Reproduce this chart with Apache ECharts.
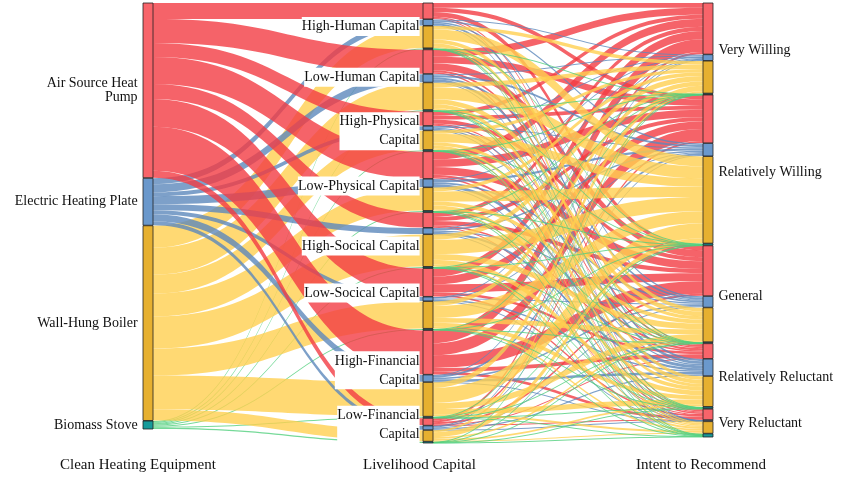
<!DOCTYPE html>
<html>
<head>
<meta charset="UTF-8">
<script src="https://cdn.jsdelivr.net/npm/echarts@6/dist/echarts.min.js"></script>
</head>
<body style="margin:0">
<div id="main" style="width:857px;height:483px;"></div>
<script>
// equipment (left column)
var equipment = ['Air Source Heat Pump', 'Electric Heating Plate', 'Wall-Hung Boiler', 'Biomass Stove'];
var equipLabels = ['Air Source Heat\nPump', 'Electric Heating Plate', 'Wall-Hung Boiler', 'Biomass Stove'];
// livelihood capital (middle column)
var capitals = ['High-Human Capital', 'Low-Human Capital', 'High-Physical Capital', 'Low-Physical Capital',
  'High-Socical Capital', 'Low-Socical Capital', 'High-Financial Capital', 'Low-Financial Capital'];
var capitalLabels = ['High-Human Capital', 'Low-Human Capital', 'High-Physical\nCapital', 'Low-Physical Capital',
  'High-Socical Capital', 'Low-Socical Capital', 'High-Financial\nCapital', 'Low-Financial\nCapital'];
// flows equipment -> capital, per capital [ASHP, EHP, WHB, BS]
var capitalSplit = [
  [16, 6, 22, 0.8],
  [24, 8, 27, 1],
  [14, 4, 19, 1],
  [27, 8, 23, 1],
  [15, 6, 32, 1],
  [28, 4, 27, 1],
  [44, 7, 34, 1],
  [7, 4, 11, 1.2]
];
// intent (right column)
var intents = ['Very Willing', 'Relatively Willing', 'General', 'Relatively Reluctant', 'Very Reluctant'];
// per intent [ASHP, EHP, WHB, BS]
var intentSplit = [
  [48, 7, 33, 0.5],
  [45, 15, 89, 1],
  [47, 13, 35, 0.5],
  [14, 20, 31, 1],
  [10, 1, 12, 2]
];

var nodeColors = ['#f8646a', '#6a98cc', '#e6b030', '#169a9a'];
var linkColors = ['#f23c44', '#5c88bb', '#ffd050', '#52d07e'];
var capLabelOffset = [[0, 4], [0, -1], [0, 3], [0, 3], [0, 15], [0, -6], [0, -8], [0, -3]];
var intentLabelOffset = [[0, -7], [0, 23], [0, -5], [0, 10], [0, 3]];

var nodes = [], links = [];
equipment.forEach(function (e, k) {
  nodes.push({
    name: e, itemStyle: { color: nodeColors[k] },
    label: { show: true, position: 'left', formatter: equipLabels[k], align: 'right' }
  });
});
capitals.forEach(function (c, ci) {
  equipment.forEach(function (e, k) {
    nodes.push({
      name: c + '|' + k, itemStyle: { color: nodeColors[k] },
      label: k === 1 ? {
        show: true, position: 'left', formatter: capitalLabels[ci], align: 'right',
        backgroundColor: '#fff', offset: capLabelOffset[ci], lineHeight: 19, distance: 3
      } : { show: false }
    });
    links.push({ source: e, target: c + '|' + k, value: capitalSplit[ci][k], lineStyle: { color: linkColors[k] } });
  });
});
intents.forEach(function (t, ti) {
  equipment.forEach(function (e, k) {
    nodes.push({
      name: t + '|' + k, itemStyle: { color: nodeColors[k] },
      label: k === 1 ? { show: true, position: 'right', formatter: t, offset: intentLabelOffset[ti] } : { show: false }
    });
  });
});
// split each capital/equipment node over intents of the same equipment
equipment.forEach(function (e, k) {
  var tot = 0;
  intentSplit.forEach(function (r) { tot += r[k]; });
  capitals.forEach(function (c, ci) {
    intents.forEach(function (t, ti) {
      links.push({
        source: c + '|' + k, target: t + '|' + k,
        value: capitalSplit[ci][k] * intentSplit[ti][k] / tot,
        lineStyle: { color: linkColors[k] }
      });
    });
  });
});

var chart = echarts.init(document.getElementById('main'));
chart.setOption({
  animation: false,
  textStyle: { fontFamily: 'Liberation Serif' },
  series: [{
    type: 'sankey',
    left: 143, right: 144, top: 3, bottom: 40,
    nodeWidth: 10, nodeGap: 0.5,
    layoutIterations: 0,
    draggable: false,
    itemStyle: { borderColor: '#222', borderWidth: 0.8 },
    lineStyle: { opacity: 0.8, curveness: 0.5 },
    label: { color: '#111', fontSize: 14, fontFamily: 'Liberation Serif' },
    emphasis: { disabled: true },
    data: nodes,
    links: links
  }],
  graphic: [
    { type: 'text', left: 60, top: 458, style: { text: 'Clean Heating Equipment', font: '15px Liberation Serif', fill: '#111' } },
    { type: 'text', left: 363, top: 458, style: { text: 'Livelihood Capital', font: '15px Liberation Serif', fill: '#111' } },
    { type: 'text', left: 636, top: 458, style: { text: 'Intent to Recommend', font: '15px Liberation Serif', fill: '#111' } }
  ]
});
</script>
</body>
</html>
